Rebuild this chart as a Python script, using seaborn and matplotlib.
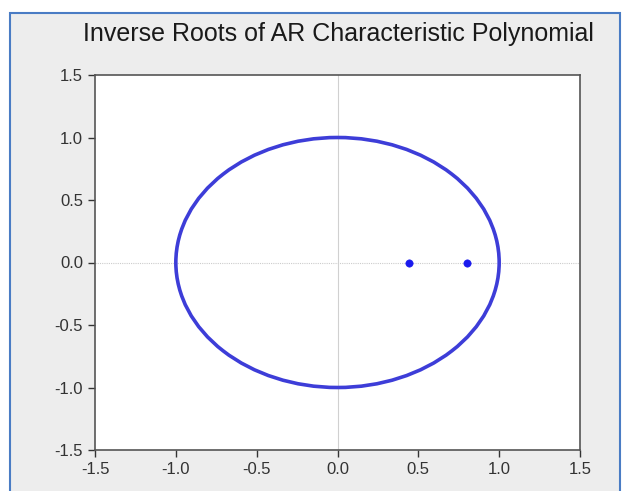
"""
AR 特征多项式逆根图
"""
import numpy as np
import pandas as pd
import matplotlib
matplotlib.use('Agg')
import matplotlib.pyplot as plt
from matplotlib.patches import Circle, Rectangle
import seaborn as sns

# 逆根 (实部, 虚部)
root_real = [0.44, 0.80]
root_imag = [0.0, 0.0]
ticks = [-1.5, -1.0, -0.5, 0.0, 0.5, 1.0, 1.5]
title = 'Inverse Roots of AR Characteristic Polynomial'

sns.set_style('white')
plt.rcParams['font.family'] = ['Liberation Sans', 'DejaVu Sans']

fig = plt.figure(figsize=(6.27, 4.91), dpi=100, facecolor='white')
bg = Rectangle((10 / 627, -0.01), 610 / 627, (491 - 13) / 491 + 0.01,
               transform=fig.transFigure, facecolor='#ededed',
               edgecolor='#4a7cc4', linewidth=1.5, zorder=-10)
fig.patches.append(bg)

ax = fig.add_axes([95 / 627, 41 / 491, 485 / 627, 375 / 491])
ax.set_zorder(5)
ax.set_facecolor('white')

ax.axhline(0, color='#cccccc', linewidth=0.8, linestyle=(0, (1, 1)), zorder=1)
ax.axvline(0, color='#d0d0d0', linewidth=0.8, zorder=1)

ax.add_patch(Circle((0, 0), 1.0, fill=False, edgecolor='#3d3dd8', linewidth=2.6, zorder=2))

roots = pd.DataFrame({'re': root_real, 'im': root_imag})
sns.scatterplot(data=roots, x='re', y='im', ax=ax, color='#1a1aee', s=28,
                edgecolor='#1a1aee', zorder=3, legend=False)

ax.set_xlim(-1.5, 1.5)
ax.set_ylim(-1.5, 1.5)
ax.set_xticks(ticks)
ax.set_yticks(ticks)
ax.set_xticklabels([f'{t:.1f}' for t in ticks])
ax.set_yticklabels([f'{t:.1f}' for t in ticks])
ax.set_xlabel('')
ax.set_ylabel('')
ax.tick_params(axis='both', which='both', direction='out', length=5, width=1,
               color='#333333', labelsize=12, labelcolor='#333333',
               bottom=True, left=True, top=False, right=False)
for s in ax.spines.values():
    s.set_color('#555555')
    s.set_linewidth(1.2)

fig.text(338 / 627, 1 - 34 / 491, title, ha='center', va='center',
         fontsize=18, color='#1a1a1a')

fig.savefig('out.png', dpi=100, facecolor=fig.get_facecolor())
